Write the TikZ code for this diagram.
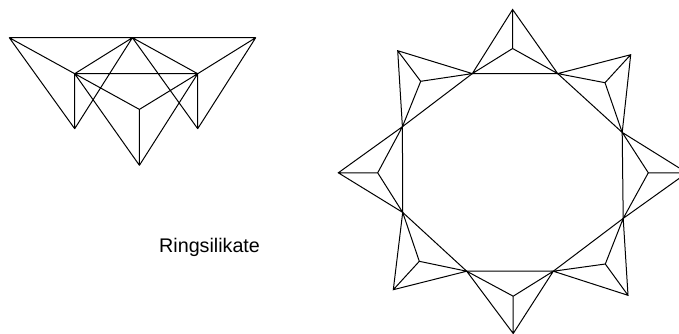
\documentclass[tikz,border=0pt]{standalone}
\usepackage{fontspec}
\setmainfont{Liberation Sans}
\tikzset{wire/.style={draw=black,line width=1pt,line join=miter,line cap=round},
 label/.style={inner sep=0pt,anchor=base west,font=\fontsize{19.7}{22}\selectfont}}
\begin{document}
\begin{tikzpicture}[x=1pt,y=-1pt]
\useasboundingbox (0,0) rectangle (679,333);
\clip (0,0) rectangle (679,333);
% left figure
\coordinate (A) at (9.3,37.7);
\coordinate (B) at (132.4,37.7);
\coordinate (C) at (255.7,37.7);
\coordinate (D) at (74.7,73.7);
\coordinate (E) at (197.7,73.7);
\coordinate (F) at (74.7,128.7);
\coordinate (G) at (197.7,128.7);
\coordinate (H) at (139.4,109.4);
\coordinate (I) at (139.4,165.3);
\draw[wire] (A)--(B)--(C) (A)--(D) (A)--(F) (D)--(B) (D)--(E) (D)--(F) (F)--(B) (B)--(E) (B)--(G) (E)--(C) (E)--(G) (C)--(G) (D)--(H) (H)--(E) (H)--(I) (D)--(I) (E)--(I);
% ring vertices
\coordinate (P1) at (472.3,73.6);
\coordinate (P2) at (557.7,73.6);
\coordinate (P3) at (622.2,132.4);
\coordinate (P4) at (623.2,218.4);
\coordinate (P5) at (553.3,271.2);
\coordinate (P6) at (466.7,271.2);
\coordinate (P7) at (402.7,212.4);
\coordinate (P8) at (402.4,126.7);
% tips and centres
\coordinate (T1) at (512.6,9.5);   \coordinate (C1) at (512.6,48.5);
\coordinate (T2) at (630.7,54.7);  \coordinate (C2) at (605,82.7);
\coordinate (T3) at (687,172.8);   \coordinate (C3) at (648.3,172.8);
\coordinate (T4) at (628,295.3);   \coordinate (C4) at (605.3,264);
\coordinate (T5) at (513.2,333.5); \coordinate (C5) at (513.2,296.2);
\coordinate (T6) at (393.3,289.7); \coordinate (C6) at (419.3,261.3);
\coordinate (T7) at (338.3,172.8); \coordinate (C7) at (377.7,172.8);
\coordinate (T8) at (397.7,50.7);  \coordinate (C8) at (420.7,81.3);
\draw[wire] (P1)--(P2)--(P3)--(P4)--(P5)--(P6)--(P7)--(P8)--cycle;
\draw[wire] (P1)--(T1)--(P2)--(C1)--(P1) (T1)--(C1);
\draw[wire] (P2)--(T2)--(P3)--(C2)--(P2) (T2)--(C2);
\draw[wire] (P3)--(T3)--(P4)--(C3)--(P3) (T3)--(C3);
\draw[wire] (P4)--(T4)--(P5)--(C4)--(P4) (T4)--(C4);
\draw[wire] (P5)--(T5)--(P6)--(C5)--(P5) (T5)--(C5);
\draw[wire] (P6)--(T6)--(P7)--(C6)--(P6) (T6)--(C6);
\draw[wire] (P7)--(T7)--(P8)--(C7)--(P7) (T7)--(C7);
\draw[wire] (P8)--(T8)--(P1)--(C8)--(P8) (T8)--(C8);
\node[label] (ringsilikate) at (159,252.5) {Ringsilikate};
\end{tikzpicture}
\end{document}
